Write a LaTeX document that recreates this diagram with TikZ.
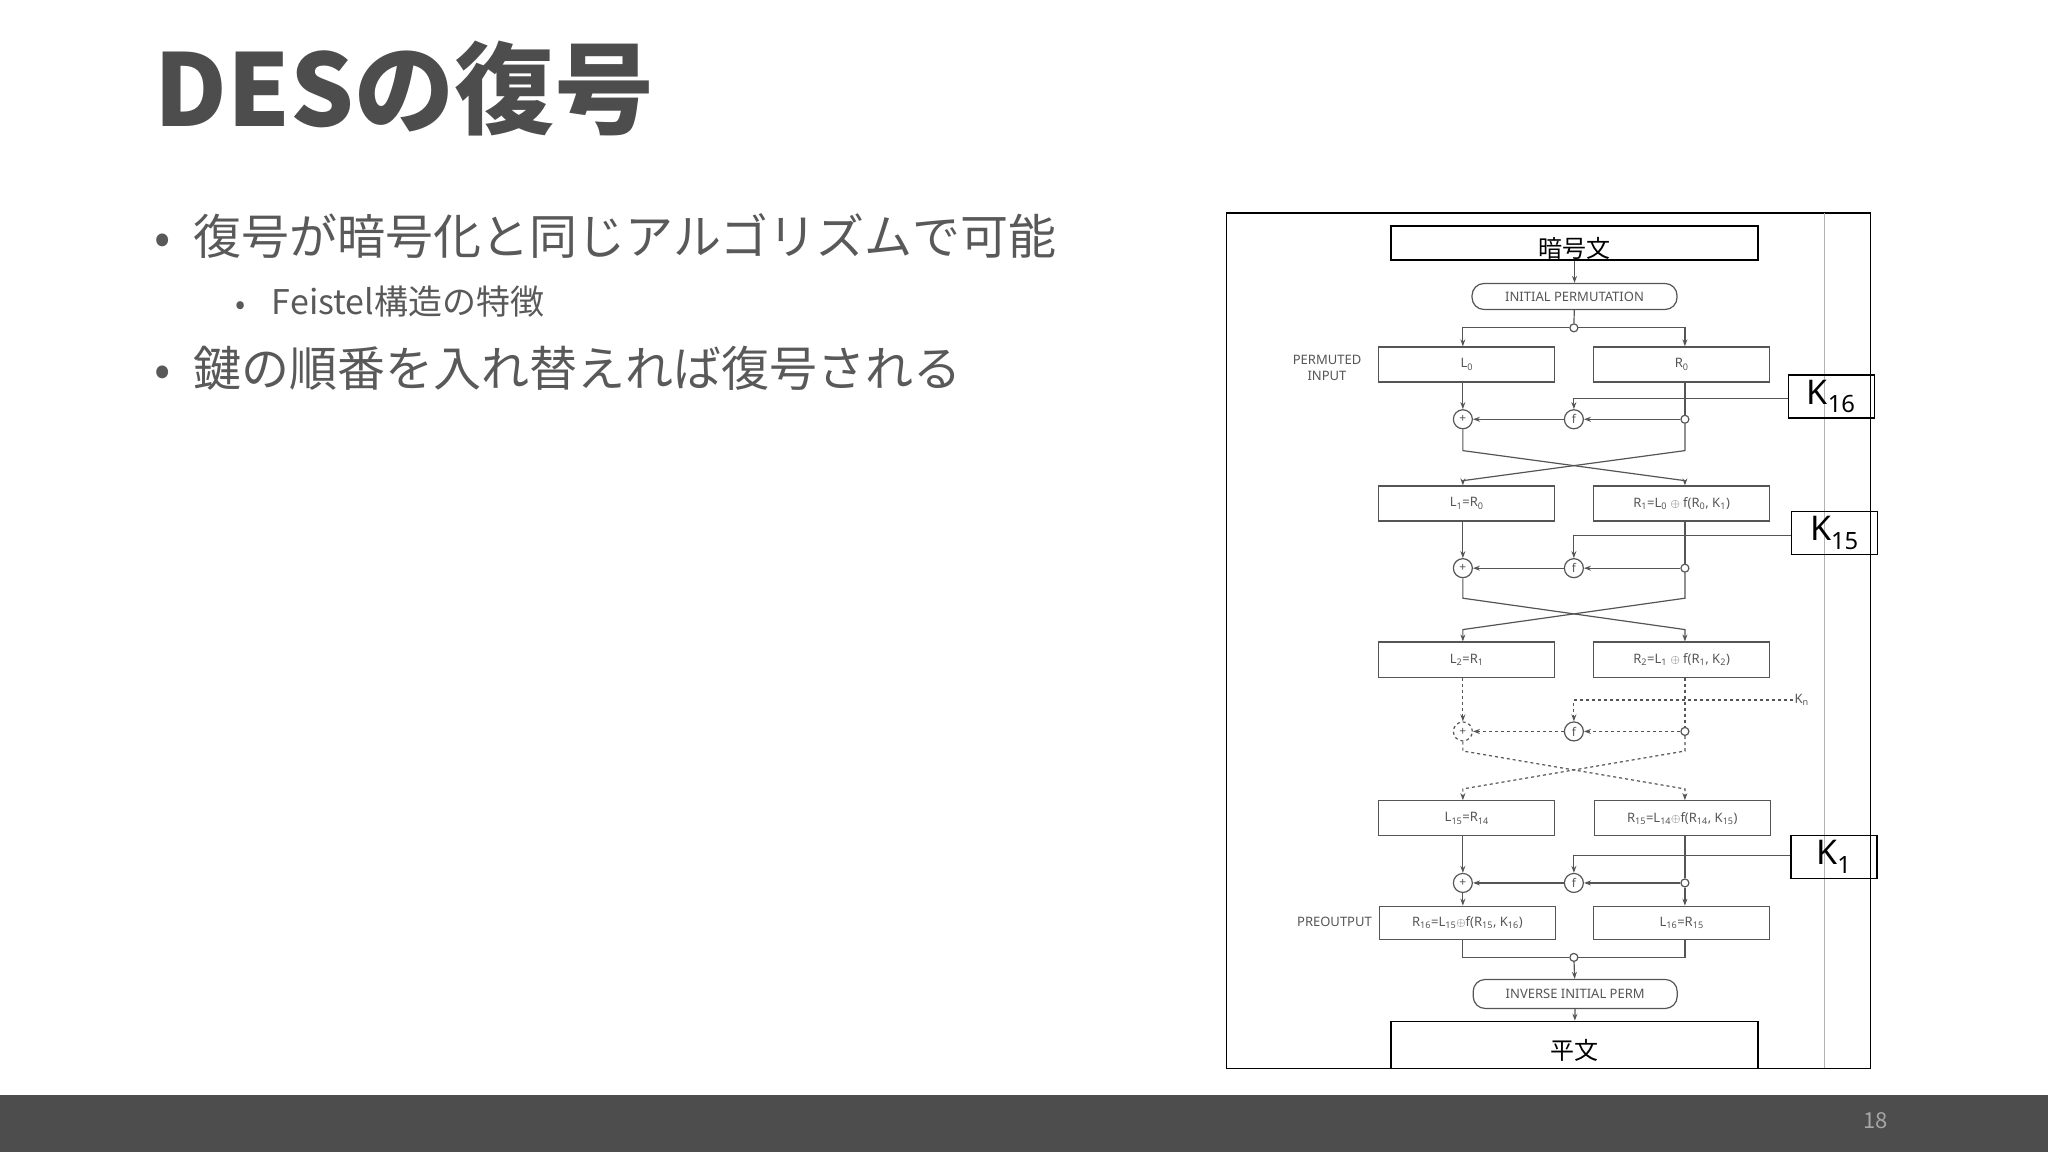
\documentclass[tikz,border=0pt]{standalone}
\usepackage{fontspec}
\setmainfont{Noto Sans CJK JP}
\newfontfamily\figf{Noto Sans}
\usetikzlibrary{arrows.meta}
\definecolor{tc}{HTML}{595959}
\definecolor{tt}{HTML}{4D4D4D}
\definecolor{fg}{HTML}{555555}
\begin{document}
\begin{tikzpicture}[x=1.306pt,y=-1.306pt,
  fig/.style={draw=fg,line width=1.2pt},
  box/.style={fig,rectangle,minimum width=176pt,minimum height=35pt,inner sep=0pt,font=\figf\fontsize{13}{15}\selectfont,text=fg},
  rbox/.style={fig,rounded corners=12pt,inner sep=0pt,font=\figf\bfseries\fontsize{13}{15}\selectfont,text=fg},
  cbox/.style={draw=black,line width=1.4pt,inner sep=0pt,minimum width=367pt,font=\fontsize{24}{26}\selectfont},
  kbox/.style={draw=black,line width=1.4pt,inner sep=0pt,minimum width=86pt,minimum height=43pt,font=\figf\fontsize{34}{36}\selectfont},
  op/.style={fig,circle,minimum size=19pt,inner sep=0pt,font=\figf\fontsize{12}{12}\selectfont,text=fg},
  dot/.style={fig,circle,minimum size=8pt,inner sep=0pt,fill=white},
  ln/.style={fig},
  ar/.style={fig,-{Stealth[length=7pt,width=5pt]}},
  lbl/.style={font=\figf\bfseries\fontsize{13}{16}\selectfont,text=fg,align=center}]
\useasboundingbox (0,0) rectangle (1568,882);
\fill[tt] (0,838) rectangle (1568,882);
\node[text=gray!70,font=\fontsize{22}{24}\selectfont] (pg) at (1436,858) {18};
% title and bullets
\node[anchor=base west,inner sep=0pt,text=tt,font=\bfseries\fontsize{100}{110}\selectfont] (title) at (118,97) {DESの復号};
\node[anchor=base west,inner sep=0pt,text=tc,font=\fontsize{48}{54}\selectfont] (b1d) at (118,195) {•};
\node[anchor=base west,inner sep=0pt,text=tc,font=\fontsize{48}{54}\selectfont] (b1) at (148,195) {復号が暗号化と同じアルゴリズムで可能};
\node[anchor=base west,inner sep=0pt,text=tc,font=\fontsize{30}{34}\selectfont] (b2d) at (180,241) {•};
\node[anchor=base west,inner sep=0pt,text=tc,font=\fontsize{34}{38}\selectfont] (b2) at (208,241) {Feistel構造の特徴};
\node[anchor=base west,inner sep=0pt,text=tc,font=\fontsize{48}{54}\selectfont] (b3d) at (118,296) {•};
\node[anchor=base west,inner sep=0pt,text=tc,font=\fontsize{48}{54}\selectfont] (b3) at (148,296) {鍵の順番を入れ替えれば復号される};
% frame
\draw[black,line width=1.4pt] (939,163) rectangle (1432,818);
\draw[gray!60,line width=1pt] (1397,163) -- (1397,818);
\coordinate (xl) at (1120,0);
\coordinate (xr) at (1290,0);
% boxes
\node[cbox,minimum height=34pt] (ct) at (1205.5,186) {};
\node[font=\fontsize{24}{26}\selectfont] (ctt) at (1205.5,190) {暗号文};
\node[rbox,minimum width=205pt,minimum height=26pt] (ip) at (1205.5,227) {INITIAL PERMUTATION};
\node[box] (L0) at (1123,279) {L\textsubscript{0}};
\node[box] (R0) at (1287.5,279) {R\textsubscript{0}};
\node[lbl] (pin) at (1016,282) {PERMUTED\\INPUT};
\node[box] (L1) at (1123,385.5) {L\textsubscript{1}=R\textsubscript{0}};
\node[box] (R1) at (1287.5,385.5) {R\textsubscript{1}=L\textsubscript{0} $\oplus$ f(R\textsubscript{0}, K\textsubscript{1})};
\node[box] (L2) at (1123,505) {L\textsubscript{2}=R\textsubscript{1}};
\node[box] (R2) at (1287.5,505) {R\textsubscript{2}=L\textsubscript{1} $\oplus$ f(R\textsubscript{1}, K\textsubscript{2})};
\node[box] (L15) at (1123,626.5) {L\textsubscript{15}=R\textsubscript{14}};
\node[box] (R15) at (1288,626.5) {R\textsubscript{15}=L\textsubscript{14}$\oplus$f(R\textsubscript{14}, K\textsubscript{15})};
\node[box,minimum height=33pt] (R16) at (1123.5,706.5) {R\textsubscript{16}=L\textsubscript{15}$\oplus$f(R\textsubscript{15}, K\textsubscript{16})};
\node[box,minimum height=33pt] (L16) at (1287.5,706.5) {L\textsubscript{16}=R\textsubscript{15}};
\node[lbl,anchor=east] (pre) at (1053,706) {PREOUTPUT};
\node[rbox,minimum width=204pt,minimum height=29pt] (iip) at (1206,761) {INVERSE INITIAL PERM};
\node[cbox,minimum height=47pt] (pt) at (1205.5,800) {};
\node[font=\fontsize{24}{26}\selectfont] (ptt) at (1205.5,804) {平文};
\node[kbox] (k16) at (1402,303.5) {K\textsubscript{16}};
\node[kbox] (k15) at (1404.5,408) {K\textsubscript{15}};
\node[kbox] (k1) at (1404,656) {K\textsubscript{1}};
\node[font=\figf\bfseries\fontsize{13}{15}\selectfont,text=fg,anchor=west,inner sep=1pt] (kn) at (1373,536) {K\textsubscript{n}};
% top
\node[dot] (s) at (1205,251) {};
\draw[ar] (ct) -- (ip);
\draw[ln] (ip) -- (s);
\draw[ar] (s) -- (1120,251) -- (L0.north -| xl);
\draw[ar] (s) -- (1290,251) -- (R0.north -| xr);
% round 1
\node[op] (p1) at (1120,321) {+};
\node[op] (f1) at (1205,321) {f};
\node[dot] (d1) at (1290,321) {};
\draw[ar] (L0.south -| xl) -- (p1);
\draw[ln] (R0.south -| xr) -- (d1);
\draw[ar] (d1) -- (f1);
\draw[ar] (f1) -- (p1);
\draw[ar] (k16.west |- 0,305) -| (f1);
\draw[ar] (p1) -- (1120,345) -- (1290,368) -- (R1.north -| xr);
\draw[ar] (d1) -- (1290,345) -- (1120,368) -- (L1.north -| xl);
% round 2
\node[op] (p2) at (1120,435) {+};
\node[op] (f2) at (1205,435) {f};
\node[dot] (d2) at (1290,435) {};
\draw[ar] (L1.south -| xl) -- (p2);
\draw[ln] (R1.south -| xr) -- (d2);
\draw[ar] (d2) -- (f2);
\draw[ar] (f2) -- (p2);
\draw[ar] (k15.west |- 0,410) -| (f2);
\draw[ar] (p2) -- (1120,458) -- (1290,482) -- (R2.north -| xr);
\draw[ar] (d2) -- (1290,458) -- (1120,482) -- (L2.north -| xl);
% round n (dashed)
\node[op,dashed] (p3) at (1120,560) {+};
\node[op] (f3) at (1205,560) {f};
\node[dot] (d3) at (1290,560) {};
\draw[ar,dashed] (L2.south -| xl) -- (p3);
\draw[ln,dashed] (R2.south -| xr) -- (d3);
\draw[ar,dashed] (d3) -- (f3);
\draw[ar,dashed] (f3) -- (p3);
\draw[ar,dashed] (kn.west) -| (f3);
\draw[ar,dashed] (p3) -- (1120,575) -- (1290,604) -- (R15.north -| xr);
\draw[ar,dashed] (d3) -- (1290,575) -- (1120,604) -- (L15.north -| xl);
% round 16
\node[op] (p4) at (1120,676) {+};
\node[op] (f4) at (1205,676) {f};
\node[dot] (d4) at (1290,676) {};
\draw[ar] (L15.south -| xl) -- (p4);
\draw[ln] (R15.south -| xr) -- (d4);
\draw[ar] (d4) -- (f4);
\draw[ar] (f4) -- (p4);
\draw[ar] (k1.west |- 0,655) -| (f4);
\draw[ar] (p4) -- (R16.north -| xl);
\draw[ar] (d4) -- (L16.north -| xr);
% bottom
\node[dot] (j) at (1205,733) {};
\draw[ln] (R16.south -| xl) -- (1120,733) -- (j);
\draw[ln] (L16.south -| xr) -- (1290,733) -- (j);
\draw[ar] (j) -- (iip);
\draw[ar] (iip) -- (pt);
\end{tikzpicture}
\end{document}
